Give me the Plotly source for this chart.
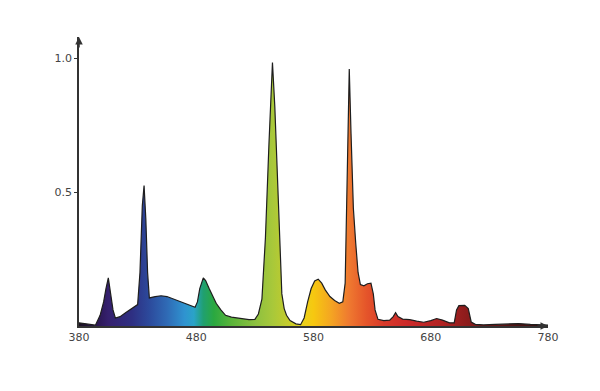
import plotly.graph_objects as go

# Wavelength (nm) and relative intensity
wavelength = [380, 385, 390, 394, 398, 401, 403, 405, 407, 409, 411, 415, 420, 425, 430,
              432, 434, 435.5, 437, 438.5, 440, 445, 450, 455, 460, 465, 470, 475, 479,
              481, 483, 486, 488, 491, 494, 497, 501, 505, 510, 515, 520, 525, 530,
              533, 536, 539, 542, 545, 547, 549, 551, 553, 555, 557, 560, 565, 569,
              572, 575, 578, 581, 584, 587, 590, 594, 598, 602, 605, 607, 608.5, 610.5,
              612, 614, 616, 618, 620, 623, 626, 629, 631, 632.5, 635, 640, 645, 648,
              650, 652, 656, 662, 668, 674, 680, 685, 690, 696, 700, 702, 704, 709,
              712, 714.5, 718, 725, 735, 745, 755, 765, 775, 780]
intensity = [0.012, 0.008, 0.004, 0.003, 0.04, 0.09, 0.14, 0.18, 0.12, 0.06, 0.03, 0.035, 0.05, 0.065, 0.08,
             0.2, 0.45, 0.525, 0.4, 0.2, 0.105, 0.11, 0.113, 0.11, 0.102, 0.092, 0.083, 0.075, 0.07,
             0.09, 0.14, 0.18, 0.17, 0.14, 0.11, 0.085, 0.06, 0.04, 0.033, 0.03, 0.026, 0.024, 0.025,
             0.045, 0.1, 0.33, 0.68, 0.985, 0.82, 0.56, 0.3, 0.12, 0.065, 0.04, 0.02, 0.008, 0.005,
             0.03, 0.09, 0.14, 0.168, 0.175, 0.16, 0.135, 0.11, 0.095, 0.085, 0.09, 0.16, 0.52, 0.96,
             0.72, 0.44, 0.31, 0.2, 0.155, 0.15, 0.158, 0.16, 0.12, 0.06, 0.025, 0.02, 0.022, 0.035,
             0.05, 0.035, 0.026, 0.024, 0.018, 0.014, 0.02, 0.028, 0.022, 0.012, 0.012, 0.06, 0.076, 0.077,
             0.065, 0.015, 0.006, 0.004, 0.006, 0.008, 0.009, 0.006, 0.004, 0.003]

x_ticks = [380, 480, 580, 680, 780]
y_ticks = [0.5, 1.0]
y_tick_labels = ["0.5", "1.0"]

# spectral colour stops (nm, colour)
spec_nm = [380, 395, 405, 425, 440, 455, 470, 478, 486, 495, 510, 530, 545, 560, 572,
           580, 595, 610, 625, 640, 660, 690, 710, 740, 780]
spec_col = ["#1a1020", "#2a1650", "#35206e", "#2e2f82", "#2c4a9c", "#2f6ab5", "#2f93d0",
            "#2aa3c8", "#20a070", "#2aa840", "#5ab43a", "#8cc040", "#a8c83a", "#c8cc2a",
            "#ecd01a", "#f6c810", "#f4a522", "#ef7a30", "#e5552a", "#d83a2a", "#cc2a2a",
            "#b02222", "#8e1c1c", "#601414", "#301010"]
lo, hi = spec_nm[0], spec_nm[-1]
colorscale = [[(n - lo) / (hi - lo), c] for n, c in zip(spec_nm, spec_col)]

fig = go.Figure()
fig.add_trace(go.Scatter(
    x=wavelength, y=intensity, mode="lines", fill="tozeroy",
    line=dict(color="#1e1e1e", width=1.2),
    fillgradient=dict(type="horizontal", colorscale=colorscale, start=lo, stop=hi),
    hoverinfo="skip", showlegend=False,
))

fig.update_layout(
    width=600, height=391,
    margin=dict(l=79, r=52, t=37, b=65),
    paper_bgcolor="white", plot_bgcolor="white",
    font=dict(family="DejaVu Sans", size=11, color="#444"),
    xaxis=dict(range=[380, 780], tickvals=x_ticks, ticks="", showgrid=False,
               zeroline=False, showline=True, linecolor="#333", linewidth=1.5),
    yaxis=dict(range=[0, 1.08], tickvals=y_ticks, ticktext=y_tick_labels,
               ticks="outside", ticklen=3, tickcolor="#333", showgrid=False,
               zeroline=False, showline=True, linecolor="#333", linewidth=1.5),
    annotations=[
        dict(x=380, y=1.08, xref="x", yref="y", text="", showarrow=True,
             ax=0, ay=12, arrowhead=2, arrowsize=1, arrowwidth=1.5, arrowcolor="#333"),
        dict(x=780, y=0, xref="x", yref="y", text="", showarrow=True,
             ax=-12, ay=0, arrowhead=2, arrowsize=1, arrowwidth=1.5, arrowcolor="#333"),
    ],
)

fig.write_html("out.html")
